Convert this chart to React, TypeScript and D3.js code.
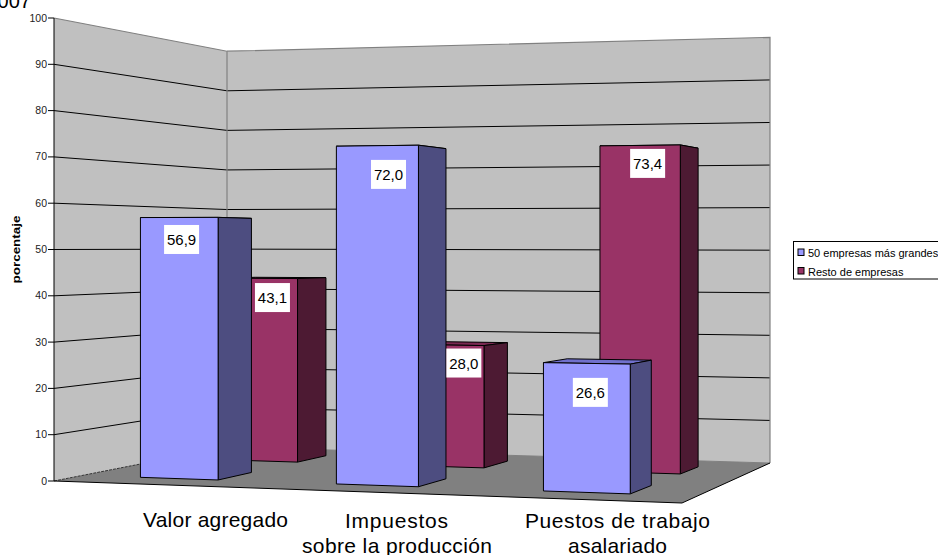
import React from "react";
import * as d3 from "d3";

const categories = ["Valor agregado", "Impuestos sobre la producción", "Puestos de trabajo asalariado"];
const seriesNames = ["50 empresas más grandes", "Resto de empresas"];
const topCompanies = [56.9, 72.0, 26.6];
const otherCompanies = [43.1, 28.0, 73.4];
const yTicks = d3.range(0, 101, 10);

// Floor quad (front-left, front-right, back-right, back-left) in screen pixels
const Q = [[54, 481], [682, 503], [770, 463], [227, 447]];
const [x0, y0] = Q[0], [x1, y1] = Q[1], [x2, y2] = Q[2], [x3, y3] = Q[3];
const sx = x0 - x1 + x2 - x3, sy = y0 - y1 + y2 - y3;
const dx1 = x1 - x2, dy1 = y1 - y2, dx2 = x3 - x2, dy2 = y3 - y2;
const det = dx1 * dy2 - dx2 * dy1;
const g = (sx * dy2 - dx2 * sy) / det;
const h = (dx1 * sy - sx * dy1) / det;
const a = x1 - x0 + g * x1, b = x3 - x0 + h * x3;
const d = y1 - y0 + g * y1, e = y3 - y0 + h * y3;

const heightScale = d3.scaleLinear().domain([0, 100]).range([0, 463]);
const barHeightScale = d3.scaleLinear().domain([0, 100]).range([0, 468]);
const project = (u: number, v: number, val = 0): [number, number] => {
  const w = g * u + h * v + 1;
  return [(a * u + b * v + x0) / w, (d * u + e * v + y0) / w - heightScale(val) / w];
};
const BAR_BASE = 2;
const projectBar = (u: number, v: number, val = 0): [number, number] => {
  const w = g * u + h * v + 1;
  return [(a * u + b * v + x0) / w, (d * u + e * v + y0) / w + BAR_BASE - barHeightScale(val) / w];
};
const poly = (pts: [number, number][]) => d3.line()(pts) + "Z";

const barU = d3.scaleLinear().domain([0, 3]).range([0, 1.005]);
const U_START = 0.087, U_WIDTH = 0.135;
const depth = [[0.19, 0.39], [0.69, 0.89]];
const palette = [
  { front: "#9999ff", side: "#4d4d80", top: "#7070cc" },
  { front: "#993366", side: "#4d1a33", top: "#7a2952" },
];
const values = [topCompanies, otherCompanies];
const labelNudge = [
  [[2.3, 22], [11.1, 28.7], [3.5, 29]],
  [[11.2, 19.2], [18, 18], [7.5, 18]],
];
const fmt = (v: number) => v.toFixed(1).replace(".", ",");
const SANS = "'Liberation Sans', Arial, sans-serif";

function Bar({ s, i }: { s: number; i: number }) {
  const val = values[s][i];
  const u0 = barU(i) + U_START, u1 = u0 + U_WIDTH;
  const [v0, v1] = depth[s];
  const c = palette[s];
  const st = { stroke: "#000", strokeWidth: 1, strokeLinejoin: "round" as const };
  return (
    <g>
      <path d={poly([projectBar(u0, v0, val), projectBar(u1, v0, val), projectBar(u1, v1, val), projectBar(u0, v1, val)])} fill={c.top} {...st} />
      <path d={poly([projectBar(u1, v0), projectBar(u1, v1), projectBar(u1, v1, val), projectBar(u1, v0, val)])} fill={c.side} {...st} />
      <path d={poly([projectBar(u0, v0), projectBar(u1, v0), projectBar(u1, v0, val), projectBar(u0, v0, val)])} fill={c.front} {...st} />
    </g>
  );
}

function Label({ s, i }: { s: number; i: number }) {
  const val = values[s][i];
  const u0 = barU(i) + U_START, u1 = u0 + U_WIDTH;
  const [v0] = depth[s];
  const [xa, ya] = projectBar(u0, v0, val);
  const [xb, yb] = projectBar(u1, v0, val);
  const cx = (xa + xb) / 2 + labelNudge[s][i][0];
  const cy = (ya + yb) / 2 + labelNudge[s][i][1];
  return (
    <g>
      <rect x={cx - 17.5} y={cy - 14.5} width={35} height={29} fill="#fff" />
      <text x={cx} y={cy + 5.5} textAnchor="middle" fontSize={15} fill="#000">{fmt(val)}</text>
    </g>
  );
}

export default function App() {
  return (
    <svg width={938} height={555} style={{ position: "absolute", left: 0, top: 0, background: "#fff" }} fontFamily={SANS}>
      <text x={31} y={8} textAnchor="end" fontSize={20} fill="#000">2007</text>

      {/* walls and floor */}
      <path d={poly([project(0, 0), project(0, 1), project(0, 1, 100), project(0, 0, 100)])} fill="#c0c0c0" />
      <path d={poly([project(0, 1), project(1, 1), project(1, 1, 100), project(0, 1, 100)])} fill="#c0c0c0" />
      <path d={poly([project(0, 0), project(1, 0), project(1, 1), project(0, 1)])} fill="#808080" />

      {/* gridlines */}
      {yTicks.filter(t => t > 0 && t < 100).map(t => (
        <path key={t} d={d3.line()([project(0, 0, t), project(0, 1, t), project(1, 1, t)])!} fill="none" stroke="#000" strokeWidth={1} />
      ))}
      <path d={d3.line()([project(0, 0, 100), project(0, 1, 100), project(1, 1, 100), project(1, 1)])!} fill="none" stroke="#808080" strokeWidth={1.2} />
      <path d={d3.line()([project(0, 1, 100), project(0, 1)])!} fill="none" stroke="#808080" strokeWidth={1.2} />
      <path d={d3.line()([project(0, 0), project(0, 1)])!} fill="none" stroke="#333" strokeWidth={1} strokeDasharray="3 1" />
      <path d={d3.line()([project(0, 1), project(1, 1)])!} fill="none" stroke="#808080" strokeWidth={1} />
      <path d={d3.line()([project(0, 0), project(1, 0), project(1, 1)])!} fill="none" stroke="#000" strokeWidth={1} />

      {/* value axis */}
      <path d={d3.line()([project(0, 0), project(0, 0, 100)])!} fill="none" stroke="#000" strokeWidth={1} />
      {yTicks.map(t => {
        const [px, py] = project(0, 0, t);
        return (
          <g key={t}>
            <line x1={px - 6} x2={px} y1={py} y2={py} stroke="#000" />
            <text x={px - 7} y={py + 3.5} textAnchor="end" fontSize={10.5} fill="#222">{t}</text>
          </g>
        );
      })}
      <text transform="translate(20,249.5) rotate(-90)" textAnchor="middle" fontSize={11} fontWeight="bold" fill="#000" textLength={68} lengthAdjust="spacingAndGlyphs">porcentaje</text>

      {/* bars */}
      {[1, 0].map(s => categories.map((_, i) => <Bar key={`${s}-${i}`} s={s} i={i} />))}
      {[1, 0].map(s => categories.map((_, i) => <Label key={`${s}-${i}`} s={s} i={i} />))}

      {/* category labels */}
      <g fontSize={21} fill="#000" textAnchor="middle">
        <text x={215.5} y={527} textLength={145}>{categories[0]}</text>
        <text x={396.5} y={528} textLength={103}>Impuestos</text>
        <text x={397} y={553} textLength={190}>sobre la producción</text>
        <text x={617.5} y={528} textLength={185}>Puestos de trabajo</text>
        <text x={617.5} y={553} textLength={99}>asalariado</text>
      </g>

      {/* legend */}
      <rect x={793.5} y={241.5} width={150} height={37.5} fill="#fff" stroke="#000" strokeWidth={1} />
      {seriesNames.map((n, i) => (
        <g key={n}>
          <rect x={798} y={249 + i * 18.5} width={6} height={6.5} fill={palette[i].front} stroke="#000" />
          <text x={808} y={257 + i * 19} fontSize={11} fill="#000">{n}</text>
        </g>
      ))}
    </svg>
  );
}
